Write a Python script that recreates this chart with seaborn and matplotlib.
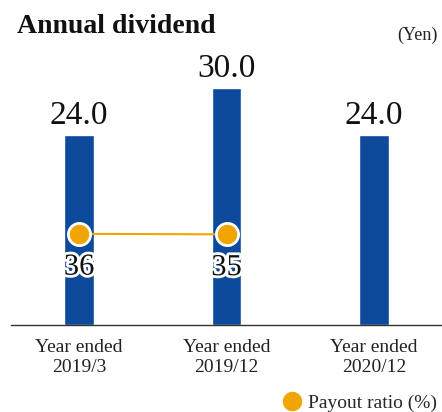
import matplotlib
matplotlib.use('Agg')
import matplotlib.pyplot as plt
import matplotlib.patheffects as pe
from matplotlib.lines import Line2D
import seaborn as sns
import numpy as np

categories = ['Year ended\n2019/3', 'Year ended\n2019/12', 'Year ended\n2020/12']
dividends = [24.0, 30.0, 24.0]
payout = [36, 35, np.nan]

blue = '#0D4A9B'
orange = '#F0A500'

sns.set_style('white')
plt.rcParams['font.family'] = ['Liberation Serif', 'DejaVu Serif']

fig = plt.figure(figsize=(4.42, 4.12), dpi=100)
ax = fig.add_axes([0.025, 0.211, 0.975, 0.643])

sns.barplot(x=categories, y=dividends, color=blue, width=0.2, saturation=1, ax=ax)
ax.set_xlim(-0.461, 2.461)
ax.set_ylim(0, 33.5)
for i, v in enumerate(dividends):
    ax.annotate(f'{v:.1f}', (i, v), xytext=(0, 3), textcoords='offset points',
                ha='center', va='bottom', fontsize=24, color='#111111')

# payout ratio on its own, very compressed scale (line reads flat)
ax2 = ax.twinx()
ax2.set_ylim(-146.5, 383.5)
xs = np.arange(len(payout))
ax2.plot(xs, payout, color=orange, lw=1.5, marker='o', markersize=16,
         markerfacecolor=orange, markeredgecolor='white', markeredgewidth=2)
for i, p in enumerate(payout):
    if not np.isnan(p):
        ax2.annotate(f'{p:.0f}', (i, p), xytext=(0, -24), textcoords='offset points',
                     ha='center', va='center', fontsize=22, color='#111111',
                     path_effects=[pe.withStroke(linewidth=4, foreground='white')])

for a in (ax, ax2):
    for s in ['top', 'right', 'left']:
        a.spines[s].set_visible(False)
    a.set_yticks([])
ax2.spines['bottom'].set_visible(False)
ax.spines['bottom'].set_color('#333333')
ax.spines['bottom'].set_linewidth(1)
ax.tick_params(axis='x', length=0, labelsize=14, pad=10, colors='#222222')
ax.set_xlabel('')

fig.text(0.038, 0.935, 'Annual dividend', fontsize=20, fontweight='bold', va='center', color='#111111')
fig.text(0.99, 0.915, '(Yen)', fontsize=13, ha='right', va='center', color='#222222')

handle = Line2D([], [], color=orange, marker='o', linestyle='none', markersize=15,
                markeredgecolor='white')
fig.legend([handle], ['Payout ratio (%)'], loc='center right', bbox_to_anchor=(1.01, 0.022),
           frameon=False, fontsize=14, handletextpad=0.2, borderpad=0, handlelength=1.2)

fig.savefig('out.png', dpi=100, facecolor='white')
